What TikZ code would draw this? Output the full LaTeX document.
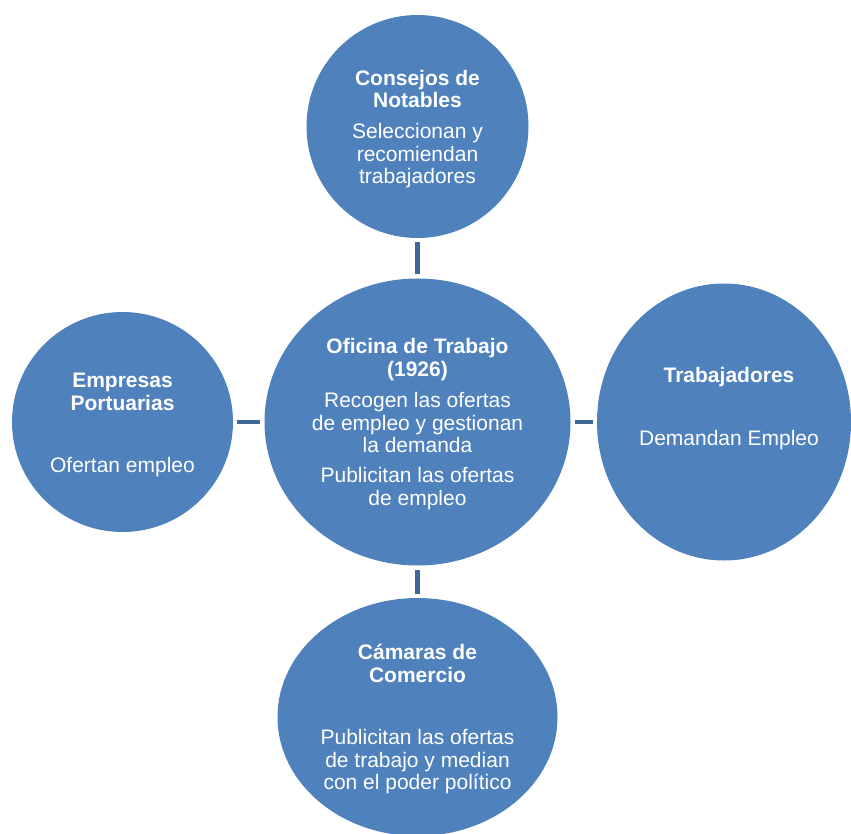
\documentclass[tikz,border=0pt]{standalone}
\usepackage{fontspec}
\setmainfont{Liberation Sans}
\usetikzlibrary{shapes.geometric}
\definecolor{circblue}{HTML}{4F81BD}
\definecolor{linkblue}{HTML}{3F6797}

\begin{document}
\begin{tikzpicture}[
  x=1pt, y=-1pt,
  every node/.style={font=\fontsize{21}{22.5}\selectfont},
  bubble/.style={
    ellipse, fill=circblue, inner sep=0pt
  },
  bubbletxt/.style={
    text=white, align=center, anchor=base, inner sep=0pt
  },
  connector/.style={draw=linkblue, line width=4.5pt, shorten <=4pt, shorten >=4pt}
]
\useasboundingbox (0,0) rectangle (851,834);
\clip (0,0) rectangle (851,834);

% Circles
\node[bubble, minimum width=222pt, minimum height=223pt] (cons) at (417.5,126.5) {};
\node[bubble, minimum width=306pt, minimum height=287pt] (ofi) at (417.5,422) {};
\node[bubble, minimum width=221pt, minimum height=220pt] (emp) at (122.5,422) {};
\node[bubble, minimum width=254pt, minimum height=277pt] (trab) at (724,422) {};
\node[bubble, minimum width=280pt, minimum height=238pt] (cam) at (417.5,717) {};

% Texts (placed at the baseline of their last line)
\node[bubbletxt] (cons-txt) at (417.5,184) {\textbf{Consejos de}\\\textbf{Notables}\\[8.5pt]Seleccionan y\\recomiendan\\trabajadores};
\node[bubbletxt] (ofi-txt) at (417.5,505) {\textbf{Oficina de Trabajo}\\\textbf{(1926)}\\[9pt]Recogen las ofertas\\de empleo y gestionan\\la demanda\\[7.5pt]Publicitan las ofertas\\de empleo};
\node[bubbletxt] (emp-txt) at (122.5,472.5) {\textbf{Empresas}\\\textbf{Portuarias}\\[40pt]Ofertan empleo};
\node[bubbletxt] (trab-txt) at (729,445.7) {\textbf{Trabajadores}\\[40.5pt]Demandan Empleo};
\node[bubbletxt] (cam-txt) at (417.5,789.5) {\textbf{Cámaras de}\\\textbf{Comercio}\\[40pt]Publicitan las ofertas\\de trabajo y median\\con el poder político};

% Connectors
\draw[connector] (cons) -- (ofi);
\draw[connector] (emp) -- (ofi);
\draw[connector] (ofi) -- (trab);
\draw[connector] (ofi) -- (cam);
\end{tikzpicture}
\end{document}
